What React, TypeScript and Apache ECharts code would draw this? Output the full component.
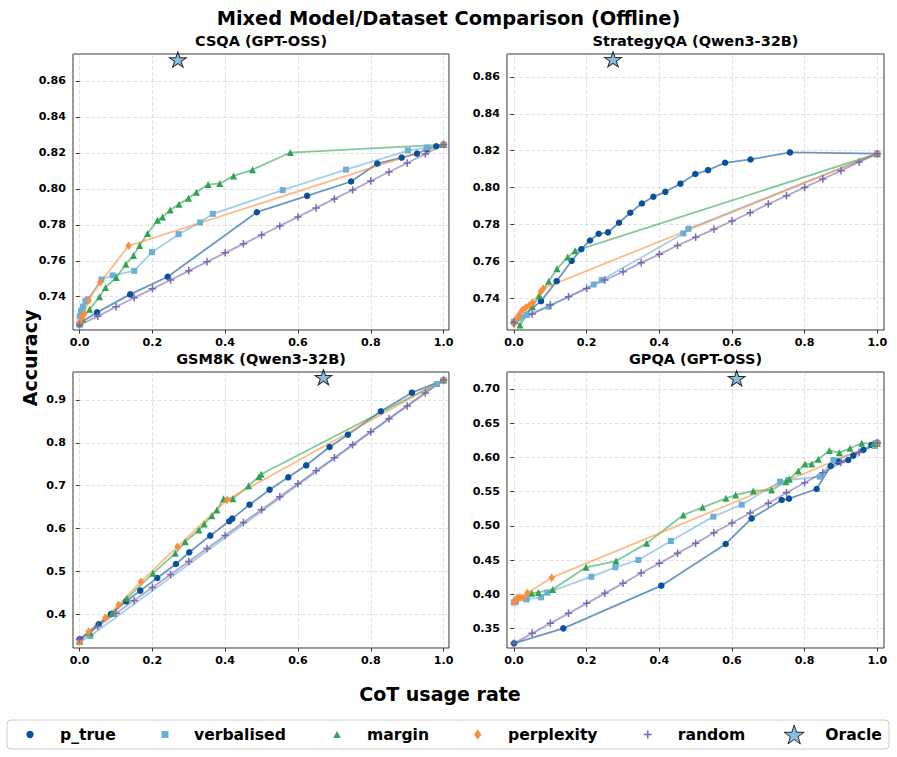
import React, { useEffect, useRef } from "react";
import * as echarts from "echarts";

// ---------- data ----------
const randomX = [0, 0.05, 0.1, 0.15, 0.2, 0.25, 0.3, 0.35, 0.4, 0.45, 0.5, 0.55, 0.6, 0.65, 0.7, 0.75, 0.8, 0.85, 0.9, 0.95, 1.0];

// CSQA (GPT-OSS)
const csqaPTrueX = [0.0, 0.048, 0.139, 0.242, 0.487, 0.625, 0.746, 0.818, 0.885, 0.927, 0.954, 0.98, 1.0];
const csqaPTrueY = [0.7252, 0.7313, 0.7413, 0.7511, 0.787, 0.7961, 0.8041, 0.8141, 0.8174, 0.8196, 0.822, 0.8237, 0.8246];
const csqaVerbX = [0.0, 0.004, 0.009, 0.016, 0.022, 0.06, 0.091, 0.15, 0.199, 0.272, 0.331, 0.366, 0.558, 0.732, 0.902, 0.954, 1.0];
const csqaVerbY = [0.729, 0.732, 0.7345, 0.7375, 0.7385, 0.7496, 0.7519, 0.7544, 0.7648, 0.7748, 0.7813, 0.7861, 0.7993, 0.8107, 0.8213, 0.823, 0.8246];
const csqaMarginX = [0.0, 0.008, 0.0275, 0.055, 0.0714, 0.1007, 0.127, 0.148, 0.165, 0.187, 0.214, 0.228, 0.249, 0.273, 0.299, 0.321, 0.353, 0.385, 0.423, 0.475, 0.579, 1.0];
const csqaMarginY = [0.7248, 0.7275, 0.733, 0.74, 0.7452, 0.7507, 0.7581, 0.763, 0.7685, 0.7752, 0.7826, 0.7844, 0.7883, 0.7915, 0.7948, 0.7981, 0.8024, 0.803, 0.8072, 0.8106, 0.8202, 0.8246];
const csqaPerpX = [0.0, 0.0064, 0.0128, 0.0247, 0.0568, 0.1346, 1.0];
const csqaPerpY = [0.7255, 0.7283, 0.7307, 0.7381, 0.748, 0.7683, 0.8246];
const csqaRandomY = [0.7243, 0.7291, 0.7344, 0.7394, 0.7444, 0.7493, 0.7544, 0.7594, 0.7644, 0.7694, 0.7743, 0.7794, 0.7844, 0.7894, 0.7944, 0.7994, 0.8044, 0.8094, 0.8144, 0.8194, 0.8246];
const csqaOracle = [0.27, 0.8719];

// StrategyQA (Qwen3-32B)
const sqaPTrueX = [0.0, 0.0743, 0.1174, 0.1587, 0.1853, 0.2092, 0.233, 0.2587, 0.289, 0.32, 0.352, 0.3835, 0.4165, 0.458, 0.499, 0.534, 0.581, 0.651, 0.7596, 1.0];
const sqaPTrueY = [0.727, 0.7387, 0.7495, 0.7605, 0.7668, 0.7715, 0.7751, 0.7759, 0.7811, 0.7865, 0.7915, 0.7951, 0.7978, 0.8022, 0.8074, 0.8095, 0.8135, 0.8153, 0.8191, 0.8184];
const sqaVerbX = [0.0, 0.0147, 0.0349, 0.0954, 0.2193, 0.2413, 0.466, 0.48, 1.0];
const sqaVerbY = [0.7275, 0.7294, 0.7312, 0.7357, 0.7477, 0.7501, 0.7753, 0.7778, 0.8184];
const sqaMarginX = [0.0, 0.0165, 0.0505, 0.0697, 0.0954, 0.1183, 0.1477, 0.1679, 1.0];
const sqaMarginY = [0.7282, 0.7258, 0.7357, 0.7418, 0.7495, 0.7562, 0.7625, 0.7659, 0.8184];
const sqaPerpX = [0.0, 0.0073, 0.0147, 0.0229, 0.0321, 0.0413, 0.0505, 0.0734, 0.0807, 1.0];
const sqaPerpY = [0.7263, 0.7294, 0.7315, 0.7339, 0.7351, 0.7364, 0.7378, 0.7438, 0.7456, 0.8184];
const sqaRandomY = [0.7272, 0.7317, 0.7366, 0.7411, 0.7456, 0.7501, 0.7546, 0.7595, 0.764, 0.7688, 0.7732, 0.7775, 0.782, 0.7865, 0.7912, 0.7957, 0.8002, 0.8047, 0.8092, 0.8139, 0.8184];
const sqaOracle = [0.2725, 0.8694];

// GSM8K (Qwen3-32B)
const gsmPTrueX = [0.0, 0.0522, 0.0861, 0.1282, 0.1667, 0.2134, 0.2647, 0.3013, 0.359, 0.4112, 0.4194, 0.467, 0.522, 0.5733, 0.6227, 0.6868, 0.7372, 0.8278, 0.913, 1.0];
const gsmPTrueY = [0.3417, 0.3767, 0.4008, 0.4303, 0.4552, 0.4848, 0.5174, 0.5446, 0.5835, 0.617, 0.6232, 0.6558, 0.6908, 0.7196, 0.7476, 0.7904, 0.8191, 0.8736, 0.9171, 0.9467];
const gsmVerbX = [0.0, 0.029, 0.982, 1.0];
const gsmVerbY = [0.3355, 0.3495, 0.9373, 0.9467];
const gsmMarginX = [0.0, 0.0293, 0.0888, 0.13, 0.2015, 0.2628, 0.2903, 0.3278, 0.3425, 0.3636, 0.3773, 0.3956, 0.4212, 0.4643, 0.4927, 0.499, 1.0];
const gsmMarginY = [0.338, 0.3572, 0.4023, 0.4373, 0.4956, 0.5423, 0.5695, 0.5967, 0.6107, 0.6302, 0.6434, 0.6698, 0.6698, 0.7002, 0.7211, 0.7266, 0.9467];
const gsmPerpX = [0.0, 0.0247, 0.0705, 0.107, 0.1685, 0.2692, 0.4048, 1.0];
const gsmPerpY = [0.336, 0.3596, 0.3922, 0.4218, 0.4762, 0.5579, 0.6667, 0.9467];
const gsmRandomY = [0.3417, 0.372, 0.4022, 0.4325, 0.4627, 0.493, 0.5232, 0.5535, 0.5837, 0.614, 0.6442, 0.6745, 0.7047, 0.735, 0.7652, 0.7955, 0.8257, 0.856, 0.8862, 0.9165, 0.9467];
const gsmOracle = [0.67, 0.9529];

// GPQA (GPT-OSS)
const gpqaPTrueX = [0.0, 0.1358, 0.4055, 0.5826, 0.654, 0.7367, 0.757, 0.833, 0.8716, 0.8927, 0.92, 0.934, 0.9615, 0.984, 1.0];
const gpqaPTrueY = [0.3286, 0.3505, 0.4128, 0.4737, 0.5111, 0.5379, 0.5399, 0.554, 0.5876, 0.5939, 0.5963, 0.6027, 0.611, 0.6183, 0.6217];
const gpqaVerbX = [0.0, 0.0055, 0.0349, 0.0743, 0.0917, 0.2128, 0.2789, 0.3422, 0.432, 0.5486, 0.6266, 0.732, 0.755, 0.842, 0.879, 0.9936, 1.0];
const gpqaVerbY = [0.3885, 0.3894, 0.3928, 0.3958, 0.4026, 0.4259, 0.4396, 0.4503, 0.478, 0.5136, 0.5311, 0.5647, 0.5671, 0.572, 0.5963, 0.6168, 0.6207];
const gpqaMarginX = [0.0, 0.0486, 0.067, 0.1064, 0.1982, 0.2807, 0.365, 0.466, 0.519, 0.5835, 0.61, 0.6587, 0.709, 0.7486, 0.7578, 0.7826, 0.801, 0.8193, 0.8376, 0.868, 0.8954, 0.9248, 0.957, 0.989, 1.0];
const gpqaMarginY = [0.392, 0.4016, 0.403, 0.4074, 0.4396, 0.4488, 0.4746, 0.516, 0.5272, 0.5404, 0.5452, 0.5511, 0.5525, 0.5647, 0.5686, 0.5803, 0.5905, 0.5905, 0.5973, 0.61, 0.607, 0.6134, 0.6207, 0.6207, 0.6207];
const gpqaPerpX = [0.0, 0.0028, 0.0092, 0.0165, 0.0257, 0.0367, 0.1037, 1.0];
const gpqaPerpY = [0.3885, 0.3909, 0.3953, 0.3958, 0.3953, 0.4021, 0.4245, 0.6207];
const gpqaRandomY = [0.3286, 0.3432, 0.3578, 0.3724, 0.387, 0.4016, 0.4162, 0.4313, 0.4454, 0.46, 0.4746, 0.4902, 0.5043, 0.5189, 0.5331, 0.5486, 0.5632, 0.5778, 0.5925, 0.6071, 0.6207];
const gpqaOracle = [0.6128, 0.7156];

const panelTitles = ["CSQA (GPT-OSS)", "StrategyQA (Qwen3-32B)", "GSM8K (Qwen3-32B)", "GPQA (GPT-OSS)"];
const methodNames = ["p_true", "verbalised", "margin", "perplexity", "random"];
const oracleName = "Oracle";
const mainTitle = "Mixed Model/Dataset Comparison (Offline)";
const xLabel = "CoT usage rate";
const yLabel = "Accuracy";

// ---------- styles ----------
const COLORS = ["#08519c", "#6baed6", "#31a354", "#fd8d3c", "#756bb1"];
const ORACLE_FILL = "#6baed6";
const PLUS = "path://M4,0H6V4H10V6H6V10H4V6H0V4H4Z";
const STAR = "path://M50,0L61.23,34.55L97.55,34.55L68.16,55.9L79.39,90.45L50,69.1L20.61,90.45L31.84,55.9L2.45,34.55L38.77,34.55Z";
const SYMBOLS = ["circle", "rect", "triangle", "diamond", PLUS];
const SIZES: any[] = [6.5, 6, 7, [6.5, 8.5], 7.5];
const FONT = "DejaVu Sans";

const GRIDS = [
  { left: 73, top: 54, width: 376, height: 276 },
  { left: 507, top: 54, width: 377, height: 276 },
  { left: 73, top: 372, width: 376, height: 276 },
  { left: 507, top: 372, width: 377, height: 276 },
];
const X_RANGES = [[-0.0181, 1.0149], [-0.0193, 1.0184], [-0.0181, 1.0149], [-0.0193, 1.0184]];
const Y_RANGES = [[0.7215, 0.875], [0.7231, 0.8723], [0.3214, 0.9653], [0.3218, 0.7248]];
const Y_STEPS = [0.02, 0.02, 0.1, 0.05];
const Y_DEC = [2, 2, 1, 2];

const panels = [
  { xs: [csqaPTrueX, csqaVerbX, csqaMarginX, csqaPerpX, randomX], ys: [csqaPTrueY, csqaVerbY, csqaMarginY, csqaPerpY, csqaRandomY], oracle: csqaOracle },
  { xs: [sqaPTrueX, sqaVerbX, sqaMarginX, sqaPerpX, randomX], ys: [sqaPTrueY, sqaVerbY, sqaMarginY, sqaPerpY, sqaRandomY], oracle: sqaOracle },
  { xs: [gsmPTrueX, gsmVerbX, gsmMarginX, gsmPerpX, randomX], ys: [gsmPTrueY, gsmVerbY, gsmMarginY, gsmPerpY, gsmRandomY], oracle: gsmOracle },
  { xs: [gpqaPTrueX, gpqaVerbX, gpqaMarginX, gpqaPerpX, randomX], ys: [gpqaPTrueY, gpqaVerbY, gpqaMarginY, gpqaPerpY, gpqaRandomY], oracle: gpqaOracle },
];

function buildOption() {
  const grid = GRIDS.map((g) => ({
    ...g,
    show: true,
    borderColor: "#333",
    borderWidth: 1,
    backgroundColor: "transparent",
    containLabel: false,
  }));
  const axisCommon = {
    axisLine: { show: false },
    axisTick: { show: true, length: 3.5, lineStyle: { color: "#333", width: 1 } },
    splitLine: { show: true, lineStyle: { color: "#b0b0b0", opacity: 0.45, width: 0.8, type: [4, 2] } },
  };
  const xAxis = GRIDS.map((_, i) => ({
    type: "value",
    gridIndex: i,
    min: X_RANGES[i][0],
    max: X_RANGES[i][1],
    splitNumber: 5,
    minInterval: 0.2,
    maxInterval: 0.2,
    ...axisCommon,
    axisLabel: {
      show: true,
      showMinLabel: false,
      showMaxLabel: false,
      margin: 7,
      color: "#000",
      fontFamily: FONT,
      fontWeight: "bold",
      fontSize: 11.1,
      formatter: (v: number) => v.toFixed(1),
    },
  }));
  const yAxis = GRIDS.map((_, i) => ({
    type: "value",
    gridIndex: i,
    min: Y_RANGES[i][0],
    max: Y_RANGES[i][1],
    splitNumber: 8,
    minInterval: Y_STEPS[i],
    maxInterval: Y_STEPS[i],
    ...axisCommon,
    axisLabel: {
      show: true,
      showMinLabel: false,
      showMaxLabel: false,
      margin: 7,
      color: "#000",
      fontFamily: FONT,
      fontWeight: "bold",
      fontSize: 11.1,
      formatter: (v: number) => v.toFixed(Y_DEC[i]),
    },
  }));

  const series: any[] = [];
  panels.forEach((p, gi) => {
    methodNames.forEach((name, mi) => {
      series.push({
        type: "line",
        name,
        xAxisIndex: gi,
        yAxisIndex: gi,
        data: p.xs[mi].map((x, k) => [x, p.ys[mi][k]]),
        symbol: SYMBOLS[mi],
        symbolSize: SIZES[mi],
        showSymbol: true,
        showAllSymbol: true,
        clip: false,
        lineStyle: { color: COLORS[mi], width: 1.8, opacity: 0.6 },
        itemStyle: { color: COLORS[mi], borderWidth: 0, opacity: 1 },
        emphasis: { disabled: true },
        silent: true,
        z: 2,
      });
    });
    series.push({
      type: "scatter",
      name: oracleName,
      xAxisIndex: gi,
      yAxisIndex: gi,
      data: [p.oracle],
      symbol: STAR,
      symbolSize: [17, 16.2],
      symbolKeepAspect: true,
      itemStyle: { color: ORACLE_FILL, borderColor: "#000", borderWidth: 1 },
      emphasis: { disabled: true },
      silent: true,
      z: 3,
    });
  });

  // legend layout: [name, icon, w, h, markerCenterX, textStartX]
  const legendSpec: any[] = [
    [methodNames[0], "circle", 7.4, 7.4, 30, 60, COLORS[0]],
    [methodNames[1], "rect", 7, 7, 165, 194, COLORS[1]],
    [methodNames[2], "triangle", 7.5, 7, 337, 367, COLORS[2]],
    [methodNames[3], "diamond", 7.5, 10, 477.7, 508, COLORS[3]],
    [methodNames[4], PLUS, 8, 8, 647.7, 677.7, COLORS[4]],
    [oracleName, STAR, 20, 19, 793.7, 824.7, ORACLE_FILL],
  ];
  const legend = legendSpec.map(([name, icon, w, h, cx, tx, color]) => {
    const left = cx - w / 2;
    const pad = tx - (left + w) - 5;
    return {
      show: true,
      left,
      top: 724.5,
      padding: 0,
      orient: "horizontal",
      itemWidth: w,
      itemHeight: h,
      selectedMode: false,
      z: 5,
      data: [
        {
          name,
          icon,
          itemStyle:
            name === oracleName
              ? { color, borderColor: "#000", borderWidth: 1 }
              : { color, borderWidth: 0 },
        },
      ],
      textStyle: {
        color: "#000",
        fontFamily: FONT,
        fontWeight: "bold",
        fontSize: 15.6,
        lineHeight: 20,
        padding: [0, 0, 0, pad],
      },
    };
  });

  const titleFont = (size: number) => `bold ${size}px "${FONT}"`;
  const graphic: any[] = [
    {
      type: "rect",
      z: 0,
      shape: { x: 7, y: 720, width: 882, height: 29, r: 4 },
      style: { fill: "#fff", stroke: "#cccccc", lineWidth: 1 },
      silent: true,
    },
    {
      type: "text",
      x: 448.5,
      y: 18,
      style: { text: mainTitle, font: titleFont(19.4), fill: "#000", align: "center", verticalAlign: "middle" },
      silent: true,
    },
    {
      type: "text",
      x: 30,
      y: 358,
      rotation: Math.PI / 2,
      style: { text: yLabel, font: titleFont(19), fill: "#000", align: "center", verticalAlign: "middle" },
      silent: true,
    },
    {
      type: "text",
      x: 440,
      y: 694,
      style: { text: xLabel, font: titleFont(19), fill: "#000", align: "center", verticalAlign: "middle" },
      silent: true,
    },
  ];
  GRIDS.forEach((g, i) => {
    graphic.push({
      type: "text",
      x: g.left + g.width / 2,
      y: g.top - 13,
      style: { text: panelTitles[i], font: titleFont(14.5), fill: "#000", align: "center", verticalAlign: "middle" },
      silent: true,
    });
  });

  return {
    animation: false,
    backgroundColor: "#ffffff",
    grid,
    xAxis,
    yAxis,
    series,
    legend,
    graphic,
  };
}

export default function App() {
  const ref = useRef<HTMLDivElement>(null);
  useEffect(() => {
    if (!ref.current) return;
    const chart = echarts.init(ref.current, null, { renderer: "svg" });
    chart.setOption(buildOption() as any);
    return () => {
      chart.dispose();
    };
  }, []);
  return (
    <div
      ref={ref}
      style={{ position: "fixed", left: 0, top: 0, width: 897, height: 757, background: "#fff" }}
    />
  );
}
